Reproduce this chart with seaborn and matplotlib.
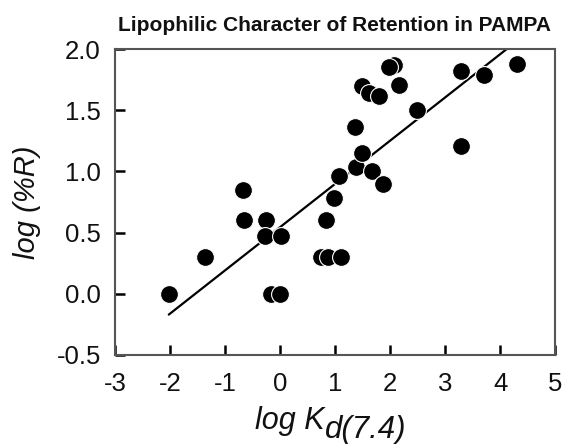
import matplotlib
matplotlib.use("Agg")
import matplotlib.pyplot as plt
import seaborn as sns
import pandas as pd

# Data
log_kd = [-2.02, -1.36, -0.68, -0.65, -0.25, -0.27, 0.02, -0.16, 0.0,
          0.75, 0.88, 1.11, 0.84, 0.99, 1.07, 1.38, 1.49, 1.67, 1.87,
          1.37, 1.49, 1.62, 1.80, 2.08, 1.98, 2.16, 2.49, 3.29, 3.29,
          3.71, 4.31]
log_r = [0.00, 0.30, 0.85, 0.60, 0.60, 0.47, 0.47, 0.00, 0.00,
         0.30, 0.30, 0.30, 0.60, 0.78, 0.96, 1.04, 1.15, 1.00, 0.90,
         1.36, 1.70, 1.64, 1.62, 1.87, 1.85, 1.71, 1.50, 1.82, 1.21,
         1.79, 1.88]
fit_x = [-2.02, 4.12]
fit_y = [-0.17, 2.00]

x_ticks = [-3, -2, -1, 0, 1, 2, 3, 4, 5]
y_ticks = [-0.5, 0.0, 0.5, 1.0, 1.5, 2.0]
y_tick_labels = ["-0.5", "0.0", "0.5", "1.0", "1.5", "2.0"]

df = pd.DataFrame({"x": log_kd, "y": log_r})
fit = pd.DataFrame({"x": fit_x, "y": fit_y})

sns.set_style("ticks")
plt.rcParams["font.family"] = ["Liberation Sans", "DejaVu Sans"]

fig = plt.figure(figsize=(5.63, 4.44), dpi=100)
ax = fig.add_axes([0.204, 0.2005, 0.782, 0.689])

sns.lineplot(data=fit, x="x", y="y", ax=ax, color="black", linewidth=1.6)
sns.scatterplot(data=df, x="x", y="y", ax=ax, color="black", s=165,
                edgecolor="white", linewidth=0.8, zorder=3)

ax.set_xlim(-3, 5)
ax.set_ylim(-0.5, 2.0)
ax.set_xticks(x_ticks, [str(t) for t in x_ticks])
ax.set_yticks(y_ticks, y_tick_labels)
ax.tick_params(direction="in", length=7, width=1.8, color="black")
ax.tick_params(labelcolor="#111111", labelsize=18.5)
ax.tick_params(axis="x", pad=12)
ax.tick_params(axis="y", pad=10)
for sp in ax.spines.values():
    sp.set_visible(True)
    sp.set_color("#555555")
    sp.set_linewidth(1.5)

ax.set_xlabel("")
ax.set_ylabel("log (%R)", fontsize=21, fontstyle="italic", labelpad=11,
              color="#111111")

# x-axis label with a near full-size, lowered subscript
xl = ax.text(0.477, -0.243, "log K", transform=ax.transAxes, fontsize=22,
             fontstyle="italic", ha="right", va="baseline", color="#111111")
ax.annotate("d(7.4)", xy=(1, 0), xycoords=xl, xytext=(0, -1),
            textcoords="offset points", fontsize=22.5, fontstyle="italic",
            ha="left", va="baseline", color="#111111",
            annotation_clip=False)

ax.set_title("Lipophilic Character of Retention in PAMPA", fontsize=15,
             fontweight="bold", pad=13, color="#111111")

fig.savefig("out.png", dpi=100)
